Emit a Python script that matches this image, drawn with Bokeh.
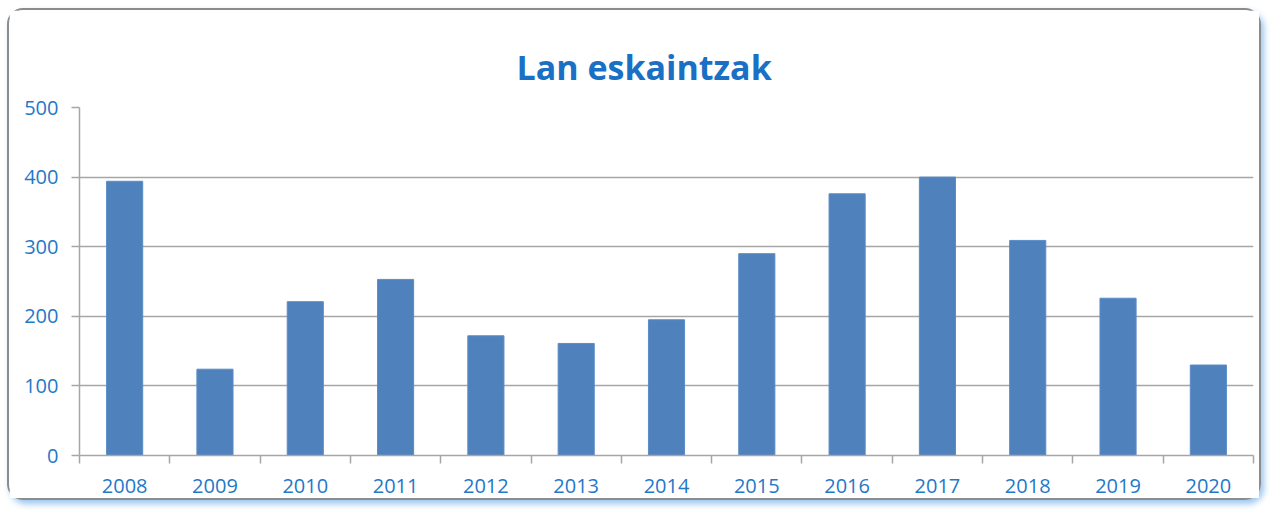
from bokeh.plotting import figure
from bokeh.models import FixedTicker, ColumnDataSource, Range1d
from bokeh.embed import file_html
from bokeh.resources import INLINE

years = ["2008", "2009", "2010", "2011", "2012", "2013", "2014",
         "2015", "2016", "2017", "2018", "2019", "2020"]
offers = [394, 124, 221, 253, 172, 161, 195, 290, 376, 400, 309, 226, 130]
y_ticks = [0, 100, 200, 300, 400, 500]

idx = list(range(len(years)))
centers = [i + 0.5 for i in idx]
src = ColumnDataSource(dict(x=centers, top=offers, year=years))

BLUE_TXT = "#1F78C8"
GRID = "#A6A6A6"

p = figure(width=1254, height=492, output_backend="svg", toolbar_location=None,
           x_range=Range1d(0, len(years)), y_range=Range1d(0, 500),
           title="Lan eskaintzak")
p.styles = {"margin": "8px 0px 0px 7px",
            "border": "2px solid #8C8C8C", "border-radius": "16px",
            "box-shadow": "3px 4px 6px rgba(120,180,235,0.75)"}
p.min_border_left = 70
p.min_border_right = 10
p.min_border_top = 97
p.min_border_bottom = 47
p.outline_line_color = None
p.background_fill_color = "white"
p.border_fill_color = "white"

p.title.align = "left"
p.title.vertical_align = "middle"
p.title.offset = 437
p.title.standoff = 34
p.title.text_color = "#1A70C4"
p.title.text_font = "Open Sans"
p.title.text_font_style = "bold"
p.title.text_font_size = "34px"

p.vbar(x="x", top="top", width=0.4, source=src, fill_color="#4F81BD",
       line_color="#5B8CC6", line_width=1)

# x axis
p.xaxis.ticker = FixedTicker(ticks=centers, minor_ticks=[float(i) for i in range(len(years) + 1)])
p.xaxis.major_label_overrides = {c: y for c, y in zip(centers, years)}
p.xaxis.major_tick_out = 0
p.xaxis.major_tick_in = 0
p.xaxis.minor_tick_out = 8
p.xaxis.minor_tick_in = 0
p.xaxis.minor_tick_line_color = GRID
p.xaxis.minor_tick_line_width = 1.5
p.xaxis.axis_line_color = GRID
p.xaxis.axis_line_width = 1.5
p.xaxis.major_label_text_color = BLUE_TXT
p.xaxis.major_label_text_font = "Open Sans"
p.xaxis.major_label_text_font_size = "20px"
p.xaxis.major_label_standoff = 15

# y axis
p.yaxis.ticker = FixedTicker(ticks=y_ticks, minor_ticks=[])
p.yaxis.major_tick_out = 8
p.yaxis.major_tick_in = 0
p.yaxis.major_tick_line_color = GRID
p.yaxis.major_tick_line_width = 1.5
p.yaxis.axis_line_color = GRID
p.yaxis.axis_line_width = 1.5
p.yaxis.major_label_text_color = BLUE_TXT
p.yaxis.major_label_text_font = "Open Sans"
p.yaxis.major_label_text_font_size = "20px"
p.yaxis.major_label_standoff = 13

p.xgrid.visible = False
p.ygrid.ticker = FixedTicker(ticks=y_ticks)
p.ygrid.grid_line_color = GRID
p.ygrid.grid_line_width = 1.5

open("out.html", "w").write(file_html(p, INLINE))
